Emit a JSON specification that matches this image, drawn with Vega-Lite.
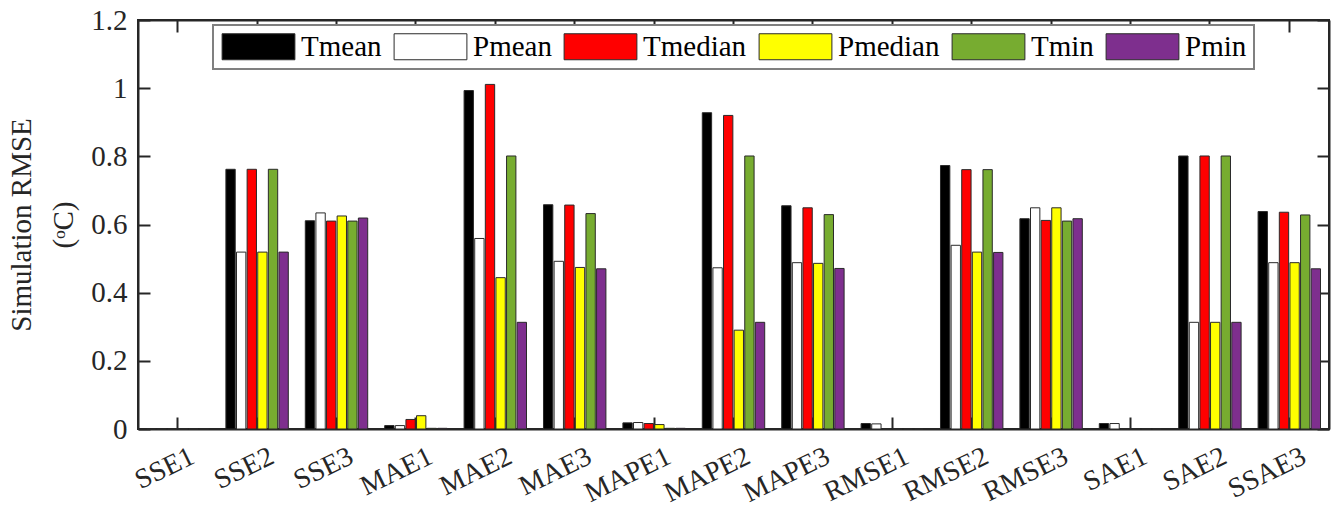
{
  "$schema": "https://vega.github.io/schema/vega-lite/v6.json",
  "width": 1191,
  "height": 409,
  "autosize": {"type": "none"},
  "padding": {"left": 138, "top": 20, "right": 7, "bottom": 82},
  "background": "white",
  "config": {
    "font": "Liberation Serif",
    "view": {"stroke": "#262626", "strokeWidth": 2},
    "axis": {
      "domainColor": "#262626",
      "domainWidth": 2,
      "tickColor": "#262626",
      "tickWidth": 2,
      "labelColor": "#262626",
      "titleColor": "#262626",
      "labelFont": "Liberation Serif",
      "titleFont": "Liberation Serif",
      "grid": false
    }
  },
  "datasets": {
    "rmse": [
      {"metric": "SSE1", "series": "Tmean", "value": 0},
      {"metric": "SSE1", "series": "Pmean", "value": 0},
      {"metric": "SSE1", "series": "Tmedian", "value": 0},
      {"metric": "SSE1", "series": "Pmedian", "value": 0},
      {"metric": "SSE1", "series": "Tmin", "value": 0},
      {"metric": "SSE1", "series": "Pmin", "value": 0},
      {"metric": "SSE2", "series": "Tmean", "value": 0.762},
      {"metric": "SSE2", "series": "Pmean", "value": 0.519},
      {"metric": "SSE2", "series": "Tmedian", "value": 0.762},
      {"metric": "SSE2", "series": "Pmedian", "value": 0.519},
      {"metric": "SSE2", "series": "Tmin", "value": 0.762},
      {"metric": "SSE2", "series": "Pmin", "value": 0.519},
      {"metric": "SSE3", "series": "Tmean", "value": 0.611},
      {"metric": "SSE3", "series": "Pmean", "value": 0.634},
      {"metric": "SSE3", "series": "Tmedian", "value": 0.610},
      {"metric": "SSE3", "series": "Pmedian", "value": 0.625},
      {"metric": "SSE3", "series": "Tmin", "value": 0.610},
      {"metric": "SSE3", "series": "Pmin", "value": 0.619},
      {"metric": "MAE1", "series": "Tmean", "value": 0.010},
      {"metric": "MAE1", "series": "Pmean", "value": 0.010},
      {"metric": "MAE1", "series": "Tmedian", "value": 0.028},
      {"metric": "MAE1", "series": "Pmedian", "value": 0.039},
      {"metric": "MAE1", "series": "Tmin", "value": 0.002},
      {"metric": "MAE1", "series": "Pmin", "value": 0.002},
      {"metric": "MAE2", "series": "Tmean", "value": 0.993},
      {"metric": "MAE2", "series": "Pmean", "value": 0.559},
      {"metric": "MAE2", "series": "Tmedian", "value": 1.011},
      {"metric": "MAE2", "series": "Pmedian", "value": 0.444},
      {"metric": "MAE2", "series": "Tmin", "value": 0.801},
      {"metric": "MAE2", "series": "Pmin", "value": 0.313},
      {"metric": "MAE3", "series": "Tmean", "value": 0.658},
      {"metric": "MAE3", "series": "Pmean", "value": 0.492},
      {"metric": "MAE3", "series": "Tmedian", "value": 0.657},
      {"metric": "MAE3", "series": "Pmedian", "value": 0.474},
      {"metric": "MAE3", "series": "Tmin", "value": 0.632},
      {"metric": "MAE3", "series": "Pmin", "value": 0.470},
      {"metric": "MAPE1", "series": "Tmean", "value": 0.018},
      {"metric": "MAPE1", "series": "Pmean", "value": 0.019},
      {"metric": "MAPE1", "series": "Tmedian", "value": 0.016},
      {"metric": "MAPE1", "series": "Pmedian", "value": 0.013},
      {"metric": "MAPE1", "series": "Tmin", "value": 0.002},
      {"metric": "MAPE1", "series": "Pmin", "value": 0.002},
      {"metric": "MAPE2", "series": "Tmean", "value": 0.928},
      {"metric": "MAPE2", "series": "Pmean", "value": 0.473},
      {"metric": "MAPE2", "series": "Tmedian", "value": 0.920},
      {"metric": "MAPE2", "series": "Pmedian", "value": 0.290},
      {"metric": "MAPE2", "series": "Tmin", "value": 0.801},
      {"metric": "MAPE2", "series": "Pmin", "value": 0.313},
      {"metric": "MAPE3", "series": "Tmean", "value": 0.655},
      {"metric": "MAPE3", "series": "Pmean", "value": 0.488},
      {"metric": "MAPE3", "series": "Tmedian", "value": 0.649},
      {"metric": "MAPE3", "series": "Pmedian", "value": 0.486},
      {"metric": "MAPE3", "series": "Tmin", "value": 0.629},
      {"metric": "MAPE3", "series": "Pmin", "value": 0.471},
      {"metric": "RMSE1", "series": "Tmean", "value": 0.016},
      {"metric": "RMSE1", "series": "Pmean", "value": 0.015},
      {"metric": "RMSE1", "series": "Tmedian", "value": 0},
      {"metric": "RMSE1", "series": "Pmedian", "value": 0},
      {"metric": "RMSE1", "series": "Tmin", "value": 0},
      {"metric": "RMSE1", "series": "Pmin", "value": 0},
      {"metric": "RMSE2", "series": "Tmean", "value": 0.773},
      {"metric": "RMSE2", "series": "Pmean", "value": 0.539},
      {"metric": "RMSE2", "series": "Tmedian", "value": 0.761},
      {"metric": "RMSE2", "series": "Pmedian", "value": 0.519},
      {"metric": "RMSE2", "series": "Tmin", "value": 0.761},
      {"metric": "RMSE2", "series": "Pmin", "value": 0.518},
      {"metric": "RMSE3", "series": "Tmean", "value": 0.617},
      {"metric": "RMSE3", "series": "Pmean", "value": 0.649},
      {"metric": "RMSE3", "series": "Tmedian", "value": 0.612},
      {"metric": "RMSE3", "series": "Pmedian", "value": 0.649},
      {"metric": "RMSE3", "series": "Tmin", "value": 0.610},
      {"metric": "RMSE3", "series": "Pmin", "value": 0.617},
      {"metric": "SAE1", "series": "Tmean", "value": 0.016},
      {"metric": "SAE1", "series": "Pmean", "value": 0.016},
      {"metric": "SAE1", "series": "Tmedian", "value": 0},
      {"metric": "SAE1", "series": "Pmedian", "value": 0},
      {"metric": "SAE1", "series": "Tmin", "value": 0},
      {"metric": "SAE1", "series": "Pmin", "value": 0},
      {"metric": "SAE2", "series": "Tmean", "value": 0.801},
      {"metric": "SAE2", "series": "Pmean", "value": 0.313},
      {"metric": "SAE2", "series": "Tmedian", "value": 0.801},
      {"metric": "SAE2", "series": "Pmedian", "value": 0.313},
      {"metric": "SAE2", "series": "Tmin", "value": 0.801},
      {"metric": "SAE2", "series": "Pmin", "value": 0.313},
      {"metric": "SSAE3", "series": "Tmean", "value": 0.638},
      {"metric": "SSAE3", "series": "Pmean", "value": 0.488},
      {"metric": "SSAE3", "series": "Tmedian", "value": 0.636},
      {"metric": "SSAE3", "series": "Pmedian", "value": 0.488},
      {"metric": "SSAE3", "series": "Tmin", "value": 0.628},
      {"metric": "SSAE3", "series": "Pmin", "value": 0.470}
    ]
  },
  "data": {"name": "rmse"},
  "layer": [
    {
      "mark": {"type": "bar", "stroke": "#2a2a2a", "strokeWidth": 1},
      "encoding": {
        "x": {
          "field": "metric",
          "type": "nominal",
          "sort": null,
          "scale": {"paddingInner": 0, "paddingOuter": 0},
          "axis": {
            "title": null,
            "labelAngle": -26,
            "labelAlign": "right",
            "labelBaseline": "top",
            "labelFontSize": 28,
            "labelPadding": 25,
            "labelOffset": 9,
            "tickSize": -12,
            "tickBand": "center"
          }
        },
        "xOffset": {
          "field": "series",
          "type": "nominal",
          "sort": ["Tmean", "Pmean", "Tmedian", "Pmedian", "Tmin", "Pmin"],
          "scale": {"paddingInner": 0.12, "paddingOuter": 0.8}
        },
        "y": {
          "field": "value",
          "type": "quantitative",
          "scale": {"domain": [0, 1.2], "nice": false},
          "axis": {
            "title": ["Simulation RMSE", "(ᵒC)"],
            "titleFontSize": 29,
            "titleFontWeight": "normal",
            "titleLineHeight": 42,
            "titlePadding": 12,
            "labelFontSize": 29,
            "labelPadding": 23,
            "tickSize": -12,
            "values": [0, 0.2, 0.4, 0.6, 0.8, 1, 1.2],
            "format": "~g"
          }
        },
        "color": {
          "field": "series",
          "type": "nominal",
          "sort": ["Tmean", "Pmean", "Tmedian", "Pmedian", "Tmin", "Pmin"],
          "scale": {
            "domain": ["Tmean", "Pmean", "Tmedian", "Pmedian", "Tmin", "Pmin"],
            "range": ["#000000", "#ffffff", "#ff0000", "#ffff00", "#77ac30", "#7e2f8e"]
          },
          "legend": {
            "orient": "none",
            "legendX": 75,
            "legendY": 5,
            "direction": "horizontal",
            "columns": 6,
            "title": null,
            "labelFontSize": 29,
            "labelFont": "Liberation Serif",
            "labelColor": "#000000",
            "labelLimit": 300,
            "symbolType": "M-2.8,-1H2.8V1H-2.8Z",
            "symbolSize": 676,
            "symbolOffset": 24,
            "symbolStrokeColor": "#2a2a2a",
            "symbolStrokeWidth": 1,
            "symbolOpacity": 1,
            "strokeColor": "#808080",
            "fillColor": "white",
            "padding": 7,
            "columnPadding": 10,
            "labelOffset": 28,
            "rowPadding": 0,
            "encode": {"legend": {"update": {"strokeWidth": {"value": 2}}}}
          }
        }
      }
    },
    {
      "mark": {"type": "bar", "opacity": 0},
      "encoding": {
        "x": {
          "field": "metric",
          "type": "nominal",
          "sort": null,
          "axis": {"orient": "top", "title": null, "labels": false, "tickSize": -12, "tickBand": "center"}
        },
        "y": {
          "field": "value",
          "type": "quantitative",
          "axis": {"orient": "right", "title": null, "labels": false, "tickSize": -12, "values": [0, 0.2, 0.4, 0.6, 0.8, 1, 1.2]}
        }
      }
    }
  ],
  "resolve": {"axis": {"x": "independent", "y": "independent"}}
}
